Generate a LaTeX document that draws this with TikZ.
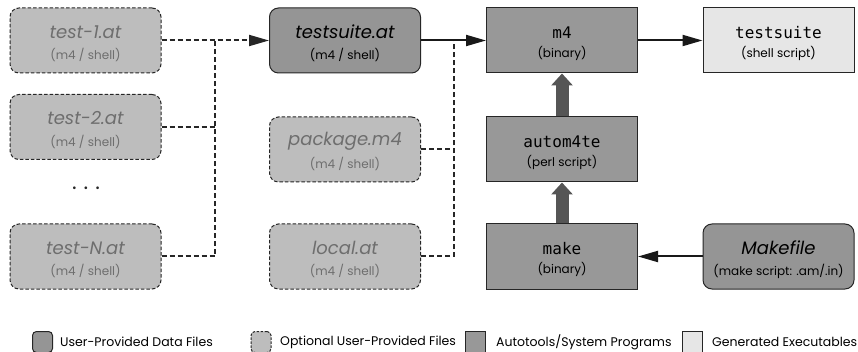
\documentclass[tikz,border=0pt]{standalone}
\usepackage{fontspec}
\setmainfont{Poppins}
\setmonofont{DejaVu Sans Mono}
\usetikzlibrary{arrows.meta}
\definecolor{userfill}{HTML}{959595}
\definecolor{optfill}{HTML}{BDBDBD}
\definecolor{sysfill}{HTML}{989898}
\definecolor{genfill}{HTML}{E6E6E6}
\definecolor{opttext}{HTML}{6E6E6E}
\definecolor{thickgray}{HTML}{555555}
\tikzset{
  boxbase/.style={minimum width=151pt, minimum height=65pt, inner sep=0pt, draw=black!85, line width=1pt},
  userbox/.style={boxbase, rounded corners=9pt, fill=userfill},
  optbox/.style={boxbase, rounded corners=9pt, fill=optfill, dash pattern=on 3.5pt off 2pt},
  sysbox/.style={boxbase, fill=sysfill},
  genbox/.style={boxbase, fill=genfill},
  ttl/.style={font=\fontsize{18}{20}\selectfont\itshape, inner sep=0pt},
  ttlmono/.style={font=\fontsize{16}{18}\ttfamily, inner sep=0pt},
  sub/.style={font=\fontsize{12}{14}\selectfont, inner sep=0pt},
  dconn/.style={line width=2pt, dash pattern=on 5pt off 3pt, black!85},
  sconn/.style={line width=2pt, black!90, -{Triangle[length=20pt,width=11pt]}},
  bigarrow/.style={line width=13pt, thickgray, -{Triangle[length=12pt,width=21pt]}},
  legbox/.style={minimum width=20pt, minimum height=21pt, inner sep=0pt, draw=black!85, line width=1pt},
  legtext/.style={anchor=west, font=\fontsize{12.5}{14}\selectfont, inner sep=0pt}
}
\begin{document}
\begin{tikzpicture}[x=1pt,y=-1pt]
\useasboundingbox (0,0) rectangle (858,352);
% left column
\node[optbox] (t1) at (85.5,40.5) {};
\node[optbox] (t2) at (85.5,127) {};
\node[optbox] (tN) at (85.5,256.5) {};
% middle column
\node[userbox] (ts) at (345,40.5) {};
\node[optbox] (pkg) at (345,149.5) {};
\node[optbox] (loc) at (345,256.5) {};
% program column
\node[sysbox] (m4) at (562,40.5) {};
\node[sysbox] (au) at (562,149.5) {};
\node[sysbox] (mk) at (562,256.5) {};
% right column
\node[genbox] (tsx) at (778.5,40.5) {};
\node[userbox] (mf) at (778.5,256.5) {};
% texts
\foreach \b/\t in {t1/test-1.at, t2/test-2.at, tN/test-N.at, pkg/package.m4, loc/local.at} {
  \node[ttl, text=opttext] (\b-t) at ([yshift=8.5pt]\b.center) {\t};
  \node[sub, text=opttext] (\b-s) at ([yshift=-14.5pt]\b.center) {(m4 / shell)};
}
\node[ttl] (ts-t) at ([yshift=8.5pt]ts.center) {testsuite.at};
\node[sub] (ts-s) at ([yshift=-14.5pt]ts.center) {(m4 / shell)};
\node[ttlmono] (m4-t) at ([yshift=8pt]m4.center) {m4};
\node[sub] (m4-s) at ([yshift=-13pt]m4.center) {(binary)};
\node[ttlmono] (au-t) at ([yshift=8pt]au.center) {autom4te};
\node[sub] (au-s) at ([yshift=-13pt]au.center) {(perl script)};
\node[ttlmono] (mk-t) at ([yshift=8pt]mk.center) {make};
\node[sub] (mk-s) at ([yshift=-13pt]mk.center) {(binary)};
\node[ttlmono] (tsx-t) at ([yshift=8pt]tsx.center) {testsuite};
\node[sub] (tsx-s) at ([yshift=-13pt]tsx.center) {(shell script)};
\node[ttl] (mf-t) at ([yshift=8.5pt]mf.center) {Makefile};
\node[sub] (mf-s) at ([yshift=-14.5pt]mf.center) {(make script: .am/.in)};
\node[font=\fontsize{22}{24}\selectfont, text=black!85, inner sep=0pt] (dots) at (86,188) {.\hspace{7pt}.\hspace{7pt}.};
% junctions
\coordinate (j1) at (215,40.5);
\coordinate (j2) at (454,40.5);
% dashed connectors
\draw[dconn, -{Triangle[length=20pt,width=11pt]}] (t1.east) -- (ts.west);
\draw[dconn] (t2.east) -- (t2.east -| j1);
\draw[dconn] (tN.east) -| (j1);
\draw[dconn] (pkg.east) -- (pkg.east -| j2);
\draw[dconn] (loc.east) -| (j2);
% solid connectors
\draw[sconn] (ts.east) -- (m4.west);
\draw[sconn] (m4.east) -- (tsx.west);
\draw[sconn] (mf.west) -- (mk.east);
% thick arrows
\draw[bigarrow] (au.north) -- (m4.south);
\draw[bigarrow] (mk.north) -- (au.south);
% legend
\node[legbox, rounded corners=4pt, fill=userfill] (l1) at (42.5,342) {};
\node[legtext] (l1t) at (60,342) {User-Provided Data Files};
\node[legbox, rounded corners=4pt, fill=optfill, dash pattern=on 2.5pt off 1.5pt] (l2) at (261,342) {};
\node[legtext] (l2t) at (280,342) {Optional User-Provided Files};
\node[legbox, fill=sysfill] (l3) at (475,342) {};
\node[legtext] (l3t) at (496,342) {Autotools/System Programs};
\node[legbox, fill=genfill] (l4) at (692,342) {};
\node[legtext] (l4t) at (712,342) {Generated Executables};
\end{tikzpicture}
\end{document}
